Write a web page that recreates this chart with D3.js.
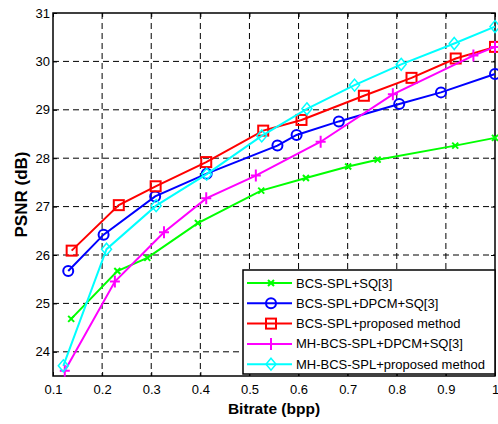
<!DOCTYPE html>
<html>
<head>
<meta charset="utf-8">
<script src="https://cdn.jsdelivr.net/npm/d3@7"></script>
<style>
  body { margin: 0; background: #fff; }
  svg { font-family: Arial, "Liberation Sans", sans-serif; }
</style>
</head>
<body>
<div id="chart"></div>
<script>
// values
const xTicks = [0.1, 0.2, 0.3, 0.4, 0.5, 0.6, 0.7, 0.8, 0.9, 1];
const yTicks = [24, 25, 26, 27, 28, 29, 30, 31];

const splSqX = [0.137, 0.231, 0.292, 0.395, 0.524, 0.615, 0.701, 0.761, 0.919, 1.0];
const splSqY = [24.68, 25.67, 25.94, 26.66, 27.33, 27.59, 27.83, 27.97, 28.26, 28.42];

const splDpcmX = [0.131, 0.203, 0.308, 0.413, 0.557, 0.596, 0.682, 0.805, 0.890, 1.0];
const splDpcmY = [25.67, 26.42, 27.21, 27.68, 28.26, 28.48, 28.76, 29.12, 29.36, 29.74];

const splPropX = [0.138, 0.234, 0.309, 0.412, 0.528, 0.606, 0.733, 0.830, 0.920, 1.0];
const splPropY = [26.09, 27.03, 27.42, 27.92, 28.57, 28.79, 29.29, 29.66, 30.06, 30.30];

const mhDpcmX = [0.124, 0.226, 0.326, 0.412, 0.513, 0.645, 0.792, 0.956, 1.0];
const mhDpcmY = [23.61, 25.45, 26.47, 27.17, 27.64, 28.34, 29.32, 30.12, 30.30];

const mhPropX = [0.121, 0.209, 0.310, 0.413, 0.525, 0.617, 0.714, 0.809, 0.917, 1.0];
const mhPropY = [23.71, 26.12, 27.02, 27.67, 28.46, 29.02, 29.51, 29.94, 30.37, 30.72];

const seriesNames = ['BCS-SPL+SQ[3]', 'BCS-SPL+DPCM+SQ[3]', 'BCS-SPL+proposed method',
                     'MH-BCS-SPL+DPCM+SQ[3]', 'MH-BCS-SPL+proposed method'];
const seriesColors = ['#00ff00', '#0000ff', '#ff0000', '#ff00ff', '#00ffff'];
const seriesMarkers = ['x', 'circle', 'square', 'plus', 'diamond'];

const series = [
  [splSqX, splSqY], [splDpcmX, splDpcmY], [splPropX, splPropY],
  [mhDpcmX, mhDpcmY], [mhPropX, mhPropY],
].map(([xs, ys], i) => ({
  name: seriesNames[i],
  color: seriesColors[i],
  marker: seriesMarkers[i],
  points: xs.map((x, j) => [x, ys[j]]),
}));

const width = 498, height = 424;
const margin = {top: 13, right: 3, bottom: 48, left: 53};

const svg = d3.select('#chart').append('svg')
  .attr('width', width)
  .attr('height', height);

const x = d3.scaleLinear().domain([0.1, 1]).range([margin.left, width - margin.right]);
const y = d3.scaleLinear().domain([23.5, 31]).range([height - margin.bottom, margin.top]);

// dashed grid
const grid = svg.append('g').attr('class', 'grid');
grid.selectAll('.gx')
  .data(xTicks.slice(1, -1))
  .join('line')
    .attr('x1', d => x(d)).attr('x2', d => x(d))
    .attr('y1', y(31)).attr('y2', y(23.5));
grid.selectAll('.gy')
  .data(yTicks.slice(0, -1))
  .join('line')
    .attr('x1', x(0.1)).attr('x2', x(1))
    .attr('y1', d => y(d)).attr('y2', d => y(d));
grid.selectAll('line')
  .attr('stroke', '#000')
  .attr('stroke-width', 1)
  .attr('stroke-dasharray', '6,4');

// axes with inward ticks (MATLAB style, on all four sides)
const xAxis = svg.append('g')
  .attr('transform', `translate(0,${y(23.5)})`)
  .call(d3.axisBottom(x).tickValues(xTicks).tickSize(-4).tickPadding(9)
    .tickFormat(d => d === 1 ? '1' : d3.format('.1f')(d)));
const yAxis = svg.append('g')
  .attr('transform', `translate(${x(0.1)},0)`)
  .call(d3.axisLeft(y).tickValues(yTicks).tickSize(-4).tickPadding(3));
const xTop = svg.append('g')
  .attr('transform', `translate(0,${y(31)})`)
  .call(d3.axisTop(x).tickValues(xTicks).tickSize(-4).tickFormat(''));
const yRight = svg.append('g')
  .attr('transform', `translate(${x(1)},0)`)
  .call(d3.axisRight(y).tickValues(yTicks).tickSize(-4).tickFormat(''));
for (const ax of [xAxis, yAxis, xTop, yRight]) {
  ax.select('.domain').remove();
  ax.selectAll('text').attr('font-size', 13).attr('fill', '#000')
    .attr('font-family', 'Arial, "Liberation Sans", sans-serif');
  ax.selectAll('.tick line').attr('stroke', '#000');
}

svg.append('rect')
  .attr('x', x(0.1)).attr('y', y(31))
  .attr('width', x(1) - x(0.1)).attr('height', y(23.5) - y(31))
  .attr('fill', 'none').attr('stroke', '#000').attr('stroke-width', 1.5);

// axis titles
svg.append('text')
  .attr('x', (x(0.1) + x(1)) / 2).attr('y', 414)
  .attr('text-anchor', 'middle')
  .attr('font-size', 15.5).attr('font-weight', 'bold')
  .text('Bitrate (bpp)');
svg.append('text')
  .attr('transform', `translate(27,${(y(23.5) + y(31)) / 2}) rotate(-90)`)
  .attr('text-anchor', 'middle')
  .attr('font-size', 17).attr('font-weight', 'bold')
  .text('PSNR (dB)');

function drawMarker(g, type, color) {
  const s = 5;
  if (type === 'circle')
    g.append('circle').attr('r', s).attr('fill', 'none').attr('stroke', color).attr('stroke-width', 2);
  else if (type === 'square')
    g.append('rect').attr('x', -s).attr('y', -s).attr('width', 2 * s).attr('height', 2 * s)
      .attr('fill', 'none').attr('stroke', color).attr('stroke-width', 2);
  else if (type === 'diamond')
    g.append('path').attr('d', `M0,${-s - 1}L${s},0L0,${s + 1}L${-s},0Z`)
      .attr('fill', 'none').attr('stroke', color).attr('stroke-width', 1.5);
  else if (type === 'plus')
    g.append('path').attr('d', `M0,${-s - 1}V${s + 1}M${-s},0H${s}`)
      .attr('stroke', color).attr('stroke-width', 2);
  else
    g.append('path').attr('d', 'M-3,-3L3,3M-3,3L3,-3')
      .attr('stroke', color).attr('stroke-width', 2);
}

const line = d3.line().x(d => x(d[0])).y(d => y(d[1]));

for (const s of series) {
  svg.append('path')
    .datum(s.points)
    .attr('d', line)
    .attr('fill', 'none')
    .attr('stroke', s.color)
    .attr('stroke-width', 2);
  svg.append('g')
    .selectAll('g')
    .data(s.points)
    .join('g')
      .attr('transform', d => `translate(${x(d[0])},${y(d[1])})`)
      .each(function() { drawMarker(d3.select(this), s.marker, s.color); });
}

// legend
const legend = svg.append('g').attr('transform', 'translate(243,270)');
legend.append('rect')
  .attr('width', 252).attr('height', 104)
  .attr('fill', '#fff').attr('stroke', '#000').attr('stroke-width', 1.5);
series.forEach((s, i) => {
  const row = legend.append('g').attr('transform', `translate(0,${13 + i * 20.3})`);
  row.append('line')
    .attr('x1', 4).attr('x2', 49)
    .attr('stroke', s.color).attr('stroke-width', 2);
  drawMarker(row.append('g').attr('transform', 'translate(28,0)'), s.marker, s.color);
  row.append('text')
    .attr('x', 53).attr('dy', '0.35em')
    .attr('font-size', 13)
    .text(s.name);
});
</script>
</body>
</html>
